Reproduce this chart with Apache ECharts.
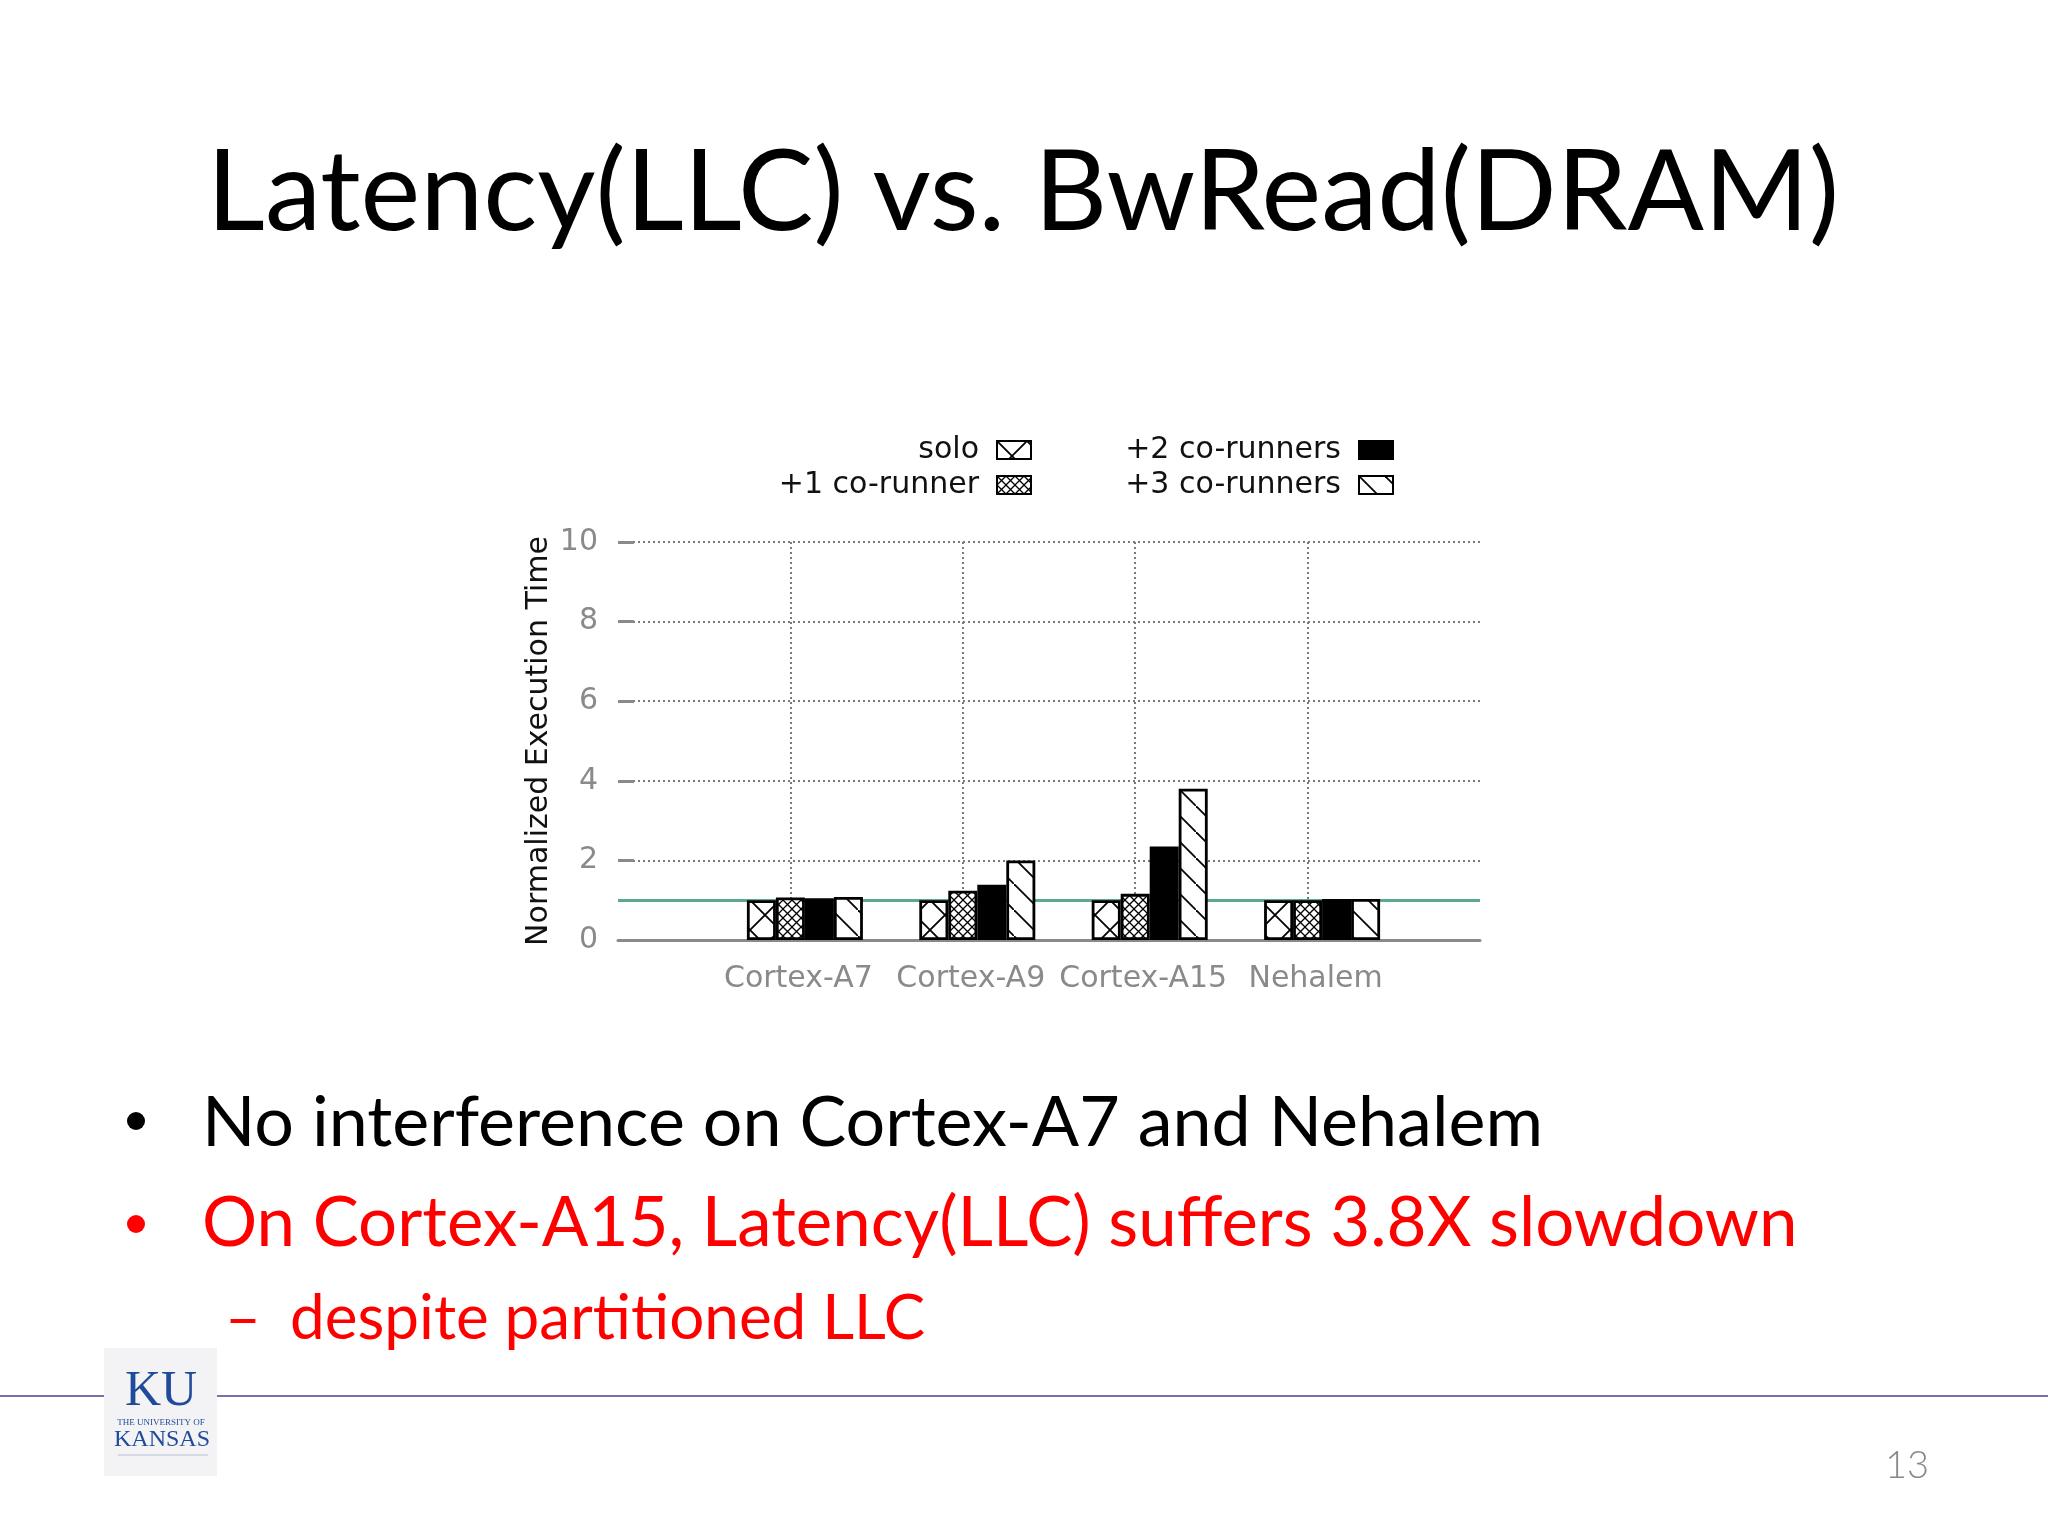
<!DOCTYPE html>
<html><head><meta charset="utf-8">
<script src="https://cdn.jsdelivr.net/npm/echarts@6/dist/echarts.min.js"></script>
<style>html,body{margin:0;padding:0;background:#fff}#c{width:2048px;height:1536px}</style>
</head><body><div id="c"></div>
<script>
// ---- data ----
const categories = ['', 'Cortex-A7', 'Cortex-A9', 'Cortex-A15', 'Nehalem', ''];
const seriesNames = ['solo', '+1 co-runner', '+2 co-runners', '+3 co-runners'];
const soloValues = ['-', 1.0, 1.0, 1.0, 1.0, '-'];
const oneCoRunner = ['-', 1.07, 1.24, 1.16, 1.0, '-'];
const twoCoRunners = ['-', 1.05, 1.39, 2.35, 1.03, '-'];
const threeCoRunners = ['-', 1.08, 2.0, 3.8, 1.03, '-'];
const baselineValue = 1;
const yMin = 0, yMax = 10, yStep = 2;
const titleText = 'Latency(LLC) vs. BwRead(DRAM)';
const bullet1 = 'No interference on Cortex-A7 and Nehalem';
const bullet2 = 'On Cortex-A15, Latency(LLC) suffers 3.8X slowdown';
const subBullet = 'despite partitioned LLC';
const pageNumber = '13';

// ---- patterns ----
function makePattern(kind) {
  const c = document.createElement('canvas');
  const s = kind === 'x' ? 30 : kind === 'fine' ? 9 : 26;
  c.width = s; c.height = s;
  const g = c.getContext('2d');
  g.fillStyle = '#fff'; g.fillRect(0, 0, s, s);
  g.strokeStyle = '#000';
  g.lineWidth = kind === 'fine' ? 1.3 : 1.8;
  g.beginPath();
  g.moveTo(-1, -1); g.lineTo(s + 1, s + 1);
  if (kind !== 'back') { g.moveTo(s + 1, -1); g.lineTo(-1, s + 1); }
  g.stroke();
  return { image: c, repeat: 'repeat' };
}
const fills = [makePattern('x'), makePattern('fine'), '#000', makePattern('back')];
const dataSets = [soloValues, oneCoRunner, twoCoRunners, threeCoRunners];

const chart = echarts.init(document.getElementById('c'), null, { renderer: 'canvas' });
const gridLine = { color: '#7a7a7a', type: [2, 3], width: 2 };
const legendCommon = {
  orient: 'vertical', align: 'right', icon: 'rect', itemWidth: 34, itemHeight: 18, itemGap: 5, padding: 0,
  selectedMode: false, top: 435,
  textStyle: { fontSize: 30, color: '#111', fontFamily: 'DejaVu Sans', lineHeight: 30, padding: [0, 13, 0, 0] }
};
const series = [{
  type: 'bar', name: '_offset', data: categories.map(() => '-'), barWidth: 29, barGap: '0%',
  markLine: {
    silent: true, symbol: 'none', z: 1, label: { show: false },
    lineStyle: { color: '#5aa98b', width: 3, type: 'solid' },
    data: [{ yAxis: baselineValue }]
  }
}];
seriesNames.forEach((n, i) => series.push({
  type: 'bar', name: n, data: dataSets[i], barWidth: 29, barGap: '0%', z: 3,
  itemStyle: { color: fills[i], borderColor: '#000', borderWidth: 2.8 }
}));

const red = '#ff0000';
chart.setOption({
  backgroundColor: '#fff',
  animation: false,
  grid: { left: 618, right: 568, top: 542, bottom: 596 },
  legend: [
    Object.assign({}, legendCommon, { data: seriesNames.slice(0, 2), right: 1016 }),
    Object.assign({}, legendCommon, { data: seriesNames.slice(2, 4), right: 654 })
  ],
  xAxis: {
    type: 'category', data: categories, boundaryGap: false,
    axisLine: { lineStyle: { color: '#8a8a8a', width: 3 } },
    axisTick: { show: false },
    axisLabel: { color: '#8a8a8a', fontSize: 30, fontFamily: 'DejaVu Sans', margin: 24, interval: 0, padding: [0, 0, 0, 16] },
    splitLine: { show: true, interval: (i) => i >= 1 && i <= 4, lineStyle: gridLine }
  },
  yAxis: {
    type: 'value', min: yMin, max: yMax, interval: yStep,
    name: 'Normalized Execution Time', nameLocation: 'middle', nameGap: 64,
    nameTextStyle: { fontSize: 30, color: '#111', fontFamily: 'DejaVu Sans' },
    axisLine: { show: false },
    axisTick: { show: true, inside: true, length: 16, lineStyle: { color: '#8a8a8a', width: 3 } },
    axisLabel: { color: '#8a8a8a', fontSize: 30, fontFamily: 'DejaVu Sans', margin: 20 },
    splitLine: { lineStyle: gridLine }
  },
  series: series,
  graphic: [
    { type: 'text', z: 10, style: { text: titleText, x: 1023, y: 194, textAlign: 'center', textVerticalAlign: 'middle', font: '113px Lato', fill: '#000' } },
    { type: 'circle', shape: { cx: 136, cy: 1121, r: 9 }, style: { fill: '#000' } },
    { type: 'text', style: { text: bullet1, x: 202, y: 1123, textVerticalAlign: 'middle', font: '70px Lato', fill: '#000' } },
    { type: 'circle', shape: { cx: 136, cy: 1224, r: 9 }, style: { fill: red } },
    { type: 'text', style: { text: bullet2, x: 202, y: 1224, textVerticalAlign: 'middle', font: '69px Lato', fill: red } },
    { type: 'text', style: { text: '\u2013', x: 225, y: 1319, textVerticalAlign: 'middle', font: '62px Lato', fill: red } },
    { type: 'text', style: { text: subBullet, x: 290, y: 1319, textVerticalAlign: 'middle', font: '62px Lato', fill: red } },
    { type: 'line', shape: { x1: 0, y1: 1396, x2: 2048, y2: 1396 }, style: { stroke: '#7b6fae', lineWidth: 2 } },
    { type: 'rect', shape: { x: 104, y: 1348, width: 113, height: 128 }, style: { fill: '#f3f3f6' } },
    { type: 'text', style: { text: 'KU', x: 161, y: 1392, textAlign: 'center', textVerticalAlign: 'middle', font: '50px "Liberation Serif"', fill: '#1f4b9a' } },
    { type: 'text', style: { text: 'THE UNIVERSITY OF', x: 161, y: 1423, textAlign: 'center', textVerticalAlign: 'middle', font: '9px "Liberation Serif"', fill: '#1f4b9a' } },
    { type: 'text', style: { text: 'KANSAS', x: 162, y: 1440, textAlign: 'center', textVerticalAlign: 'middle', font: '24px "Liberation Serif"', fill: '#1f4b9a' } },
    { type: 'line', shape: { x1: 118, y1: 1455, x2: 208, y2: 1455 }, style: { stroke: '#b8c0d8', lineWidth: 1 } },
    { type: 'text', style: { text: pageNumber, x: 1907, y: 1466, textAlign: 'center', textVerticalAlign: 'middle', font: '300 38px Lato', fill: '#888' } }
  ]
});
</script></body></html>
